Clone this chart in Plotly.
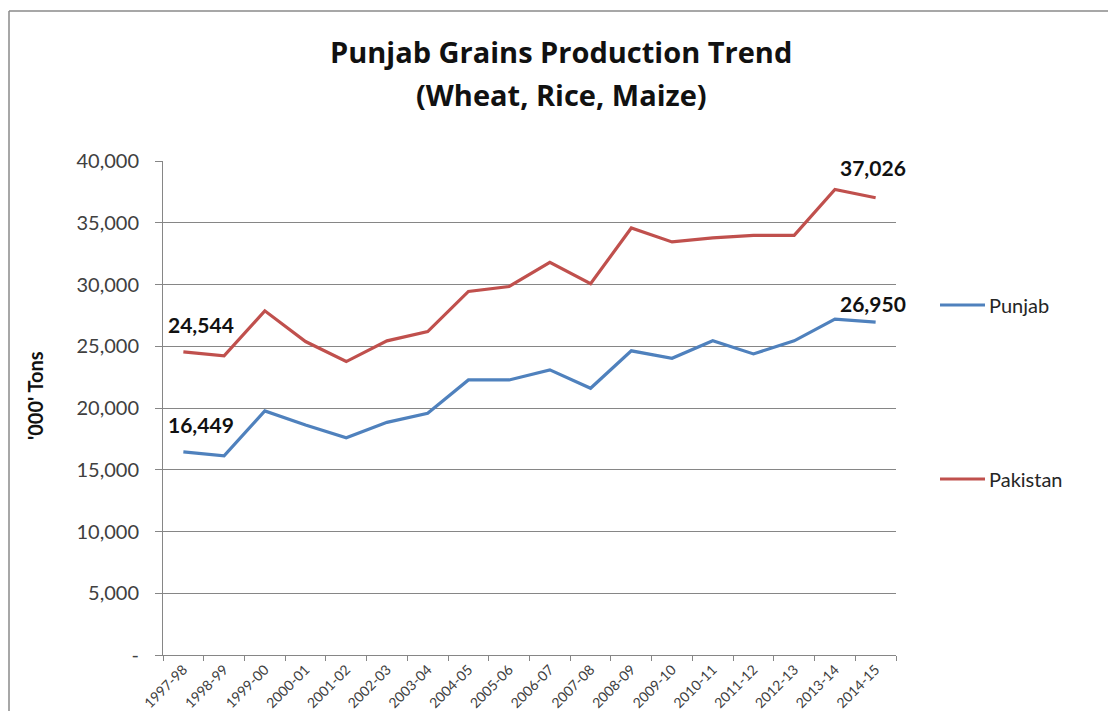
import plotly.graph_objects as go

years = ["1997-98", "1998-99", "1999-00", "2000-01", "2001-02", "2002-03", "2003-04",
         "2004-05", "2005-06", "2006-07", "2007-08", "2008-09", "2009-10", "2010-11",
         "2011-12", "2012-13", "2013-14", "2014-15"]
punjab = [16449, 16130, 19760, 18620, 17590, 18840, 19570, 22270, 22270, 23085,
          21600, 24630, 24030, 25440, 24380, 25440, 27200, 26950]
pakistan = [24544, 24220, 27870, 25380, 23760, 25440, 26190, 29440, 29840, 31790,
            30060, 34580, 33450, 33770, 33980, 33980, 37690, 37026]
ytick_vals = [0, 5000, 10000, 15000, 20000, 25000, 30000, 35000, 40000]
ytick_text = ["-", "5,000", "10,000", "15,000", "20,000", "25,000", "30,000", "35,000", "40,000"]

BLUE = "#4F81BD"
RED = "#C0504D"
FONT = "Lato"
W, H = 1108, 711
L, R, T, B = 163, 896, 161, 655
PW, PH = R - L, B - T


def px(x):
    return (x - L) / PW


def py(y):
    return (B - y) / PH


fig = go.Figure()
fig.add_trace(go.Scatter(x=years, y=punjab, name="Punjab", mode="lines",
                         line=dict(color=BLUE, width=3.2), showlegend=False))
fig.add_trace(go.Scatter(x=years, y=pakistan, name="Pakistan", mode="lines",
                         line=dict(color=RED, width=3.2), showlegend=False))

annotations = []
# data labels
for xv, yv, xs, ys in [(years[0], pakistan[0], 18, 27), (years[0], punjab[0], 18, 27),
                       (years[-1], pakistan[-1], -3, 30), (years[-1], punjab[-1], -3, 19)]:
    annotations.append(dict(x=xv, y=yv, xref="x", yref="y", text=f"{yv:,}", showarrow=False,
                            xshift=xs, yshift=ys, font=dict(family=FONT, size=21, color="#111111",
                                                            weight="bold")))
# titles
TFONT = "Open Sans"
annotations.append(dict(x=px(561), y=py(51), xref="paper", yref="paper", showarrow=False,
                        text="Punjab Grains Production Trend", xanchor="center", yanchor="middle",
                        font=dict(family=TFONT, size=29, color="#111111", weight="bold")))
annotations.append(dict(x=px(561), y=py(94), xref="paper", yref="paper", showarrow=False,
                        text="(Wheat, Rice, Maize)", xanchor="center", yanchor="middle",
                        font=dict(family=TFONT, size=29, color="#111111", weight="bold")))
# y axis title
annotations.append(dict(x=px(35), y=py(396), xref="paper", yref="paper", showarrow=False,
                        text="'000' Tons", textangle=-90, xanchor="center", yanchor="middle",
                        font=dict(family=FONT, size=20, color="#111111", weight="bold")))

shapes = []
# legend (manual)
for name, color, yc in [("Punjab", BLUE, 305), ("Pakistan", RED, 479)]:
    shapes.append(dict(type="line", xref="paper", yref="paper", x0=px(940), x1=px(985),
                       y0=py(yc), y1=py(yc), line=dict(color=color, width=3.2)))
    annotations.append(dict(x=px(987), y=py(yc), xref="paper", yref="paper", showarrow=False,
                            text=name, xanchor="left", yanchor="middle",
                            font=dict(family=FONT, size=20, color="#262626")))
# chart border (top and left edges)
shapes.append(dict(type="line", xref="paper", yref="paper", x0=px(9), x1=px(W + 5),
                   y0=py(11), y1=py(11), line=dict(color="#8a8a8a", width=1.5)))
shapes.append(dict(type="line", xref="paper", yref="paper", x0=px(9), x1=px(9),
                   y0=py(11), y1=py(H + 5), line=dict(color="#8a8a8a", width=1.5)))

fig.update_layout(
    width=W, height=H,
    margin=dict(l=L, r=W - R, t=T, b=H - B, autoexpand=False),
    paper_bgcolor="white", plot_bgcolor="white",
    annotations=annotations, shapes=shapes,
    showlegend=False,
)
fig.update_xaxes(type="category", range=[-0.5, 17.5], tickson="boundaries",
                 ticks="outside", ticklen=5, tickcolor="#868686", showgrid=False,
                 showline=True, linecolor="#868686", linewidth=1, tickangle=-45,
                 tickfont=dict(family=FONT, size=14, color="#404040"))
fig.update_yaxes(range=[0, 40000], tickvals=ytick_vals, ticktext=ytick_text,
                 ticks="outside", ticklen=7, tickcolor="#868686",
                 showgrid=True, gridcolor="#868686", gridwidth=1,
                 showline=True, linecolor="#868686", linewidth=1, zeroline=False,
                 ticklabelstandoff=12,
                 tickfont=dict(family=FONT, size=20, color="#404040"))

fig.write_html("out.html", config={"displayModeBar": False},
               post_script="document.body.style.margin='0';document.body.style.overflow='hidden';")
